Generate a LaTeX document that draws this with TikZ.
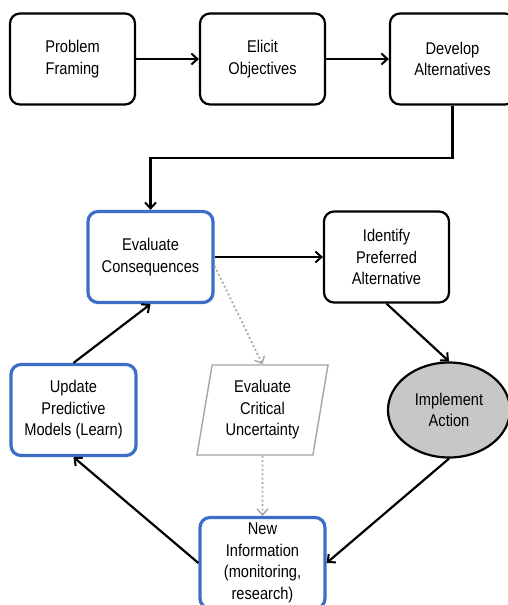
\documentclass[tikz,border=0pt]{standalone}
\usepackage{fontspec}
\setmainfont{Liberation Sans}[FakeStretch=0.86]
\usepackage{tikz}
\usetikzlibrary{arrows.meta,shapes.geometric}
\definecolor{boxblue}{RGB}{60,110,200}
\definecolor{softgray}{RGB}{165,165,165}
\tikzstyle{box}=[rectangle,draw=black,line width=2.2pt,rounded corners=10pt,minimum width=125pt,minimum height=91pt,align=center,font=\fontsize{17}{21.5}\selectfont]
\tikzstyle{blue box}=[box,draw=boxblue,line width=3.2pt]
\tikzstyle{action}=[ellipse,draw=black,line width=2.2pt,fill=black!22,minimum width=122pt,minimum height=95pt,align=center,font=\fontsize{17}{21.5}\selectfont]
\tikzstyle{uncertain}=[trapezium,trapezium left angle=77,trapezium right angle=103,trapezium stretches body,draw=softgray,line width=1.4pt,minimum width=131pt,minimum height=90pt,align=center,inner xsep=0pt,font=\fontsize{17}{21.5}\selectfont]
\tikzstyle{edge}=[draw,line width=2.2pt,-{Straight Barb[length=6pt,width=11pt,line width=2pt]}]
\tikzstyle{dotted edge}=[draw,softgray,line width=1.8pt,dash pattern=on 1.8pt off 2.6pt,-{Straight Barb[length=6pt,width=11pt,line width=1.4pt]}]

\begin{document}
\begin{tikzpicture}[x=1pt,y=-1pt]
        \useasboundingbox (0,0) rectangle (508,605);
        \node[box] (pf) at (72.5,59) {Problem\\Framing};
        \node[box] (eo) at (262.5,59) {Elicit\\Objectives};
        \node[box] (da) at (452.5,59) {Develop\\Alternatives};
        \node[blue box] (ec) at (150.5,257) {Evaluate\\Consequences};
        \node[box] (ipa) at (386.5,257) {Identify\\Preferred\\Alternative};
        \node[blue box] (upm) at (73.5,410) {Update\\Predictive\\Models (Learn)};
        \node[uncertain] (ecu) at (262.5,410) {Evaluate\\Critical\\Uncertainty};
        \node[action] (ia) at (449,410) {Implement\\Action};
        \node[blue box] (ni) at (262.5,563) {New\\Information\\(monitoring,\\research)};
        \draw[edge] (pf) to (eo);
        \draw[edge] (eo) to (da);
        \draw[edge] (da.south) -- ++(0,52) -| (ec.north);
        \draw[edge] (ec) to (ipa);
        \draw[edge] (ipa.south) to (ia.north);
        \draw[edge] (ia.south) to (ni.east);
        \draw[edge] (ni.west) to (upm.south);
        \draw[edge] (upm.north) to (ec.south);
        \draw[dotted edge] ([yshift=-9pt]ec.east) to (ecu.north);
        \draw[dotted edge] (ecu.south) to (ni.north);
      \end{tikzpicture}
\end{document}
